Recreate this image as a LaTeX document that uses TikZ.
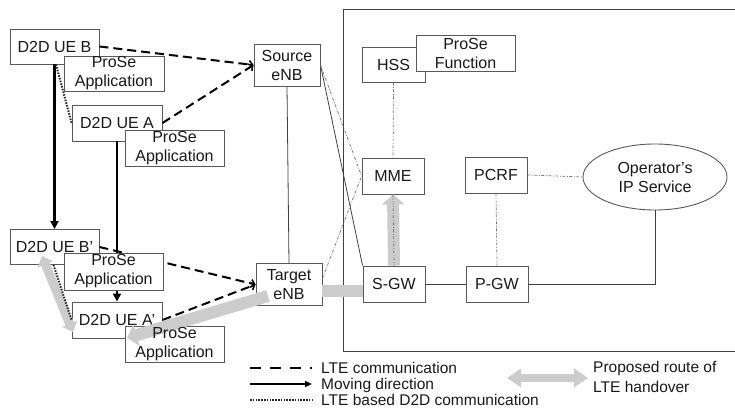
\documentclass[tikz,border=0pt]{standalone}
\usepackage{fontspec}
\setmainfont{Liberation Sans}
\usetikzlibrary{arrows.meta,shapes.geometric}

\begin{document}
\begin{tikzpicture}[x=1pt,y=-1pt,
  font=\fontsize{16}{19}\selectfont,
  box/.style={draw=black!65, line width=0.9pt, fill=white, inner sep=0pt,
              align=center, text=black!90},
  label only/.style={inner sep=0pt, align=center, text=black!90},
  frame/.style={draw=black!75, line width=0.9pt},
  link/.style={draw=black!75, line width=0.8pt},
  ctrl/.style={draw=black!55, line width=0.7pt,
               dash pattern=on 3pt off 1.6pt on 0.8pt off 1.6pt},
  lte/.style={draw=black, line width=2pt, dash pattern=on 9pt off 5pt,
              -{Straight Barb[length=3.5pt,width=8pt,line width=1.6pt]}},
  move/.style={draw=black, line width=2.5pt, -{Triangle[length=8pt,width=8pt]}},
  d2d/.style={draw=black!85, line width=2pt, dash pattern=on 1.5pt off 1.3pt},
  route/.style={draw=black!20, line width=12pt},
  routearrow/.style={route, -{Triangle[width=22pt,length=10pt]}},
  legtext/.style={anchor=base west, inner sep=0pt, text=black!90, font=\fontsize{15.5}{19}\selectfont}
]
\useasboundingbox (0,0) rectangle (735,411);

% core network frame (open to the right)
\draw[frame] (745,9) -- (343.5,9) -- (343.5,351) -- (745,351);

% core network nodes
\node[box, minimum width=63, minimum height=35] (HSS) at (393.5,64.5) {HSS};
\node[box, minimum width=99, minimum height=36] (PF) at (465.5,53.5) {ProSe\\Function};
\node[box, minimum width=62, minimum height=36] (MME) at (393,176) {MME};
\node[box, minimum width=62, minimum height=36] (PCRF) at (496,175) {PCRF};
\node[box, minimum width=62, minimum height=36] (SGW) at (394,284) {S-GW};
\node[box, minimum width=62, minimum height=36] (PGW) at (497,284) {P-GW};
\node[draw=black!65, line width=0.9pt, ellipse, inner sep=0pt, align=center,
      minimum width=144, minimum height=66, text=black!90] (IPS) at (655,177)
      {Operator’s\\IP Service};

% base stations
\node[box, minimum width=66, minimum height=42] (SeNB) at (287,65) {Source\\eNB};
\node[box, minimum width=66, minimum height=42] (TeNB) at (289,284.5) {Target\\eNB};

% interfaces
\draw[link] (SeNB.south) -- (TeNB.north);
\draw[link] (SeNB.east) -- (SGW.north west);
\draw[ctrl] (SeNB.east) -- (MME.west);
\draw[ctrl] (TeNB.10) -- (MME.west);
\draw[ctrl] (HSS.south) -- (MME.north);
\draw[ctrl] (PCRF.south) -- (PGW.north);
\draw[ctrl] (PCRF.east) -- (IPS.west);
\draw[link] (SGW.east) -- (PGW.west);
\draw[link] (PGW.east) -| (IPS.south);

% UE positions before and after moving
\node[box, minimum width=89, minimum height=35] (UEB) at (54.5,46.5) {D2D UE B};
\node[box, minimum width=90, minimum height=36] (UEA) at (117,123) {D2D UE A};
\node[box, minimum width=89, minimum height=35] (UEB2) at (54.5,247) {D2D UE B’};
\node[box, minimum width=90, minimum height=36] (UEA2) at (117,320) {D2D UE A’};

% LTE links to the eNBs
\draw[lte] (UEB.east) -- (SeNB.west);
\draw[lte] (UEA.east) -- (SeNB.west);
\draw[lte] (UEB2.east) -- (TeNB.west);
\draw[lte] (UEA2.east) -- (TeNB.west);

% moving direction
\draw[move] (UEB.south) -- (UEB2.north);
\draw[move] (UEA.south) -- (UEA2.north);

% D2D link before moving
\draw[d2d] ([xshift=1.5pt]UEB.south) -- (UEA.west);

% ProSe applications on the UEs
\node[box, minimum width=100, minimum height=35] (PAB) at (114,73.5) {ProSe\\Application};
\node[box, minimum width=99, minimum height=36] (PAA) at (174.5,148) {ProSe\\Application};
\node[box, minimum width=99, minimum height=37] (PAB2) at (113.5,271.5) {ProSe\\Application};
\node[box, minimum width=99, minimum height=36] (PAA2) at (174.5,344) {};

% proposed handover route
\coordinate (r1) at (268,296);
\coordinate (r2) at (127,338);
\coordinate (d1) at (42,256);
\coordinate (d2) at (73,332);
\draw[routearrow] (SGW.north) -- (MME.south);
\draw[route] ([yshift=-6.5pt]SGW.west) -- ([yshift=-6pt]TeNB.east);
\draw[routearrow] (r1) -- (r2);
\draw[route, line width=9pt, {Triangle[width=16pt,length=9pt]}-{Triangle[width=16pt,length=9pt]}] (d1) -- (d2);
\draw[ctrl] (MME.south) -- (SGW.north);
\node[label only] (PAA2text) at (PAA2.center) {ProSe\\Application};

% D2D link after moving
\draw[d2d] ([xshift=-1pt]UEB2.south) -- (UEA2.west);

% legend
\coordinate (la1) at (250,368);  \coordinate (lb1) at (312,368);
\coordinate (la2) at (250,384);  \coordinate (lb2) at (312,384);
\coordinate (la3) at (250,400);  \coordinate (lb3) at (312,400);
\draw[lte, -, dash pattern=on 11pt off 9pt] (la1) -- (lb1);
\draw[move, -{Triangle[length=7pt,width=6pt]}] (la2) -- (lb2);
\draw[d2d] (la3) -- (lb3);
\node[legtext] (lt1) at (321,373) {LTE communication};
\node[legtext] (lt2) at (321,389) {Moving direction};
\node[legtext] (lt3) at (321,405) {LTE based D2D communication};
\coordinate (lr1) at (507,378);
\coordinate (lr2) at (588,378);
\draw[route, line width=8pt, {Triangle[width=18pt,length=14pt]}-{Triangle[width=18pt,length=14pt]}] (lr1) -- (lr2);
\node[legtext] (lt4) at (593,372) {Proposed route of};
\node[legtext] (lt5) at (593,392) {LTE handover};
\end{tikzpicture}
\end{document}
